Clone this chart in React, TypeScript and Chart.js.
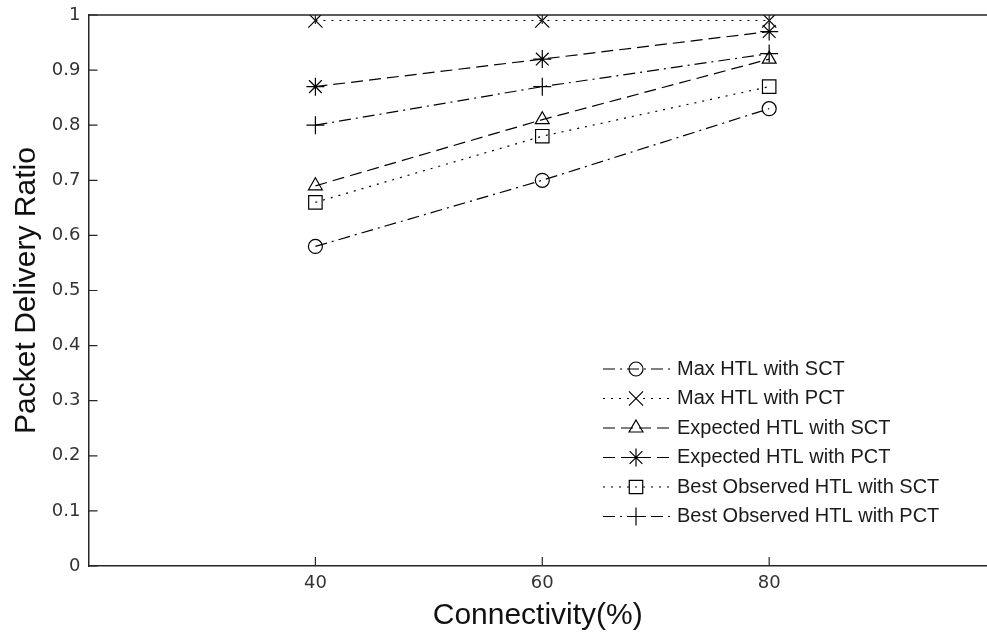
import React, { useEffect, useRef } from 'react';
import { Chart, registerables } from 'chart.js';
import { drawPoint } from 'chart.js/helpers';

Chart.register(...registerables);

const connectivity = [40, 60, 80];
const xTickValues = [40, 60, 80];

const maxHtlSct = [0.58, 0.70, 0.83];
const maxHtlPct = [0.99, 0.99, 0.99];
const expectedHtlSct = [0.69, 0.81, 0.92];
const expectedHtlPct = [0.87, 0.92, 0.97];
const bestObservedSct = [0.66, 0.78, 0.87];
const bestObservedPct = [0.80, 0.87, 0.93];

const seriesLabels = [
  'Max HTL with SCT',
  'Max HTL with PCT',
  'Expected HTL with SCT',
  'Expected HTL with PCT',
  'Best Observed HTL with SCT',
  'Best Observed HTL with PCT',
];

const DASHDOT = [12, 5, 2, 5];
const DASHED = [12, 6];
const DOTTED = [2, 6];

const seriesStyles = [
  { data: maxHtlSct, dash: DASHDOT, pointStyle: 'circle', radius: 7 },
  { data: maxHtlPct, dash: DOTTED, pointStyle: 'crossRot', radius: 10 },
  { data: expectedHtlSct, dash: DASHED, pointStyle: 'triangle', radius: 8 },
  { data: expectedHtlPct, dash: DASHED, pointStyle: 'star', radius: 9 },
  { data: bestObservedSct, dash: DOTTED, pointStyle: 'rect', radius: 9.5 },
  { data: bestObservedPct, dash: DASHDOT, pointStyle: 'cross', radius: 9 },
];

const AXIS = '#262626';
const TICK_LEN = 9;

const decorPlugin = {
  id: 'matlabDecor',
  afterDatasetsDraw(chart: any) {
    const { ctx, chartArea, scales } = chart;
    const xs = scales.x;
    const ys = scales.y;
    ctx.save();
    ctx.strokeStyle = AXIS;
    ctx.lineWidth = 1.5;
    ctx.setLineDash([]);
    // top box line
    ctx.beginPath();
    ctx.moveTo(chartArea.left, chartArea.top);
    ctx.lineTo(chartArea.right, chartArea.top);
    ctx.stroke();
    // inward ticks
    ctx.lineWidth = 1.2;
    const rightEdge = xs.getPixelForValue(100);
    ys.ticks.forEach((t: any) => {
      const y = ys.getPixelForValue(t.value);
      ctx.beginPath();
      ctx.moveTo(chartArea.left, y);
      ctx.lineTo(chartArea.left + TICK_LEN, y);
      ctx.moveTo(rightEdge, y);
      ctx.lineTo(rightEdge - TICK_LEN, y);
      ctx.stroke();
    });
    xs.ticks.forEach((t: any) => {
      const x = xs.getPixelForValue(t.value);
      ctx.beginPath();
      ctx.moveTo(x, chartArea.bottom);
      ctx.lineTo(x, chartArea.bottom - TICK_LEN);
      ctx.moveTo(x, chartArea.top);
      ctx.lineTo(x, chartArea.top + TICK_LEN);
      ctx.stroke();
    });
    // legend
    const lineStart = 603;
    const lineEnd = 670;
    const markerX = 636;
    const textX = 677;
    const rowY0 = 369;
    const rowStep = 29.5;
    chart.data.datasets.forEach((ds: any, i: number) => {
      const y = rowY0 + i * rowStep;
      ctx.strokeStyle = '#000';
      ctx.lineWidth = 1.2;
      ctx.setLineDash(ds.borderDash || []);
      ctx.beginPath();
      ctx.moveTo(lineStart, y);
      ctx.lineTo(lineEnd, y);
      ctx.stroke();
      ctx.setLineDash([]);
      ctx.fillStyle = 'rgba(0,0,0,0)';
      ctx.strokeStyle = '#000';
      ctx.lineWidth = 1.2;
      drawPoint(ctx, { pointStyle: ds.pointStyle, radius: ds.pointRadius, rotation: 0, borderWidth: 1.2 }, markerX, y);
      ctx.fillStyle = '#1a1a1a';
      ctx.font = '20px "Liberation Sans", Arial, sans-serif';
      ctx.textBaseline = 'middle';
      ctx.textAlign = 'left';
      ctx.fillText(ds.label, textX, y);
    });
    ctx.restore();
  },
};

export default function App() {
  const ref = useRef<HTMLCanvasElement>(null);
  useEffect(() => {
    document.body.style.margin = '0';
    const datasets = seriesStyles.map((s, i) => ({
      label: seriesLabels[i],
      data: connectivity.map((x, j) => ({ x, y: s.data[j] })),
      borderColor: '#000',
      borderWidth: 1.2,
      borderDash: s.dash,
      pointStyle: s.pointStyle,
      pointRadius: s.radius,
      pointBorderColor: '#000',
      pointBorderWidth: 1.2,
      pointBackgroundColor: 'rgba(0,0,0,0)',
      fill: false,
      tension: 0,
    }));
    const chart = new Chart(ref.current as HTMLCanvasElement, {
      type: 'line',
      data: { datasets },
      options: {
        animation: false,
        responsive: false,
        devicePixelRatio: 1,
        layout: { autoPadding: false, padding: { left: 0, top: 15, right: 0, bottom: 0 } },
        plugins: { legend: { display: false }, tooltip: { enabled: false } },
        scales: {
          x: {
            type: 'linear',
            min: 20,
            max: 99.2,
            afterBuildTicks: (s: any) => {
              s.ticks = xTickValues.map((v) => ({ value: v }));
            },
            afterFit: (s: any) => {
              s.height = 67;
              s.paddingLeft = 0;
              s.paddingRight = 0;
            },
            grid: { display: false, drawTicks: false },
            border: { display: true, color: AXIS, width: 1.5 },
            ticks: {
              font: { family: 'DejaVu Sans', size: 18 },
              color: '#333',
              padding: 7,
              maxRotation: 0,
              autoSkip: false,
              callback: (v: any) => String(v),
            },
            title: {
              display: true,
              text: 'Connectivity(%)',
              font: { family: 'Liberation Sans', size: 30, lineHeight: 1 },
              color: '#111',
              padding: { top: 0, bottom: 2 },
            },
          },
          y: {
            min: 0,
            max: 1,
            afterFit: (s: any) => {
              s.width = 88.5;
              s.paddingTop = 0;
              s.paddingBottom = 0;
            },
            grid: { display: false, drawTicks: false },
            border: { display: true, color: AXIS, width: 1.5 },
            ticks: {
              stepSize: 0.1,
              font: { family: 'DejaVu Sans', size: 18 },
              color: '#333',
              padding: 8,
              callback: (v: any) => String(Number(Number(v).toFixed(1))),
            },
            title: {
              display: true,
              text: 'Packet Delivery Ratio',
              font: { family: 'Liberation Sans', size: 30, lineHeight: 1.2 },
              color: '#111',
              padding: { top: 9, bottom: 0 },
            },
          },
        },
      },
      plugins: [decorPlugin],
    } as any);
    return () => chart.destroy();
  }, []);
  return (
    <div style={{ width: 987, height: 633 }}>
      <canvas ref={ref} width={987} height={633} style={{ display: 'block' }} />
    </div>
  );
}
